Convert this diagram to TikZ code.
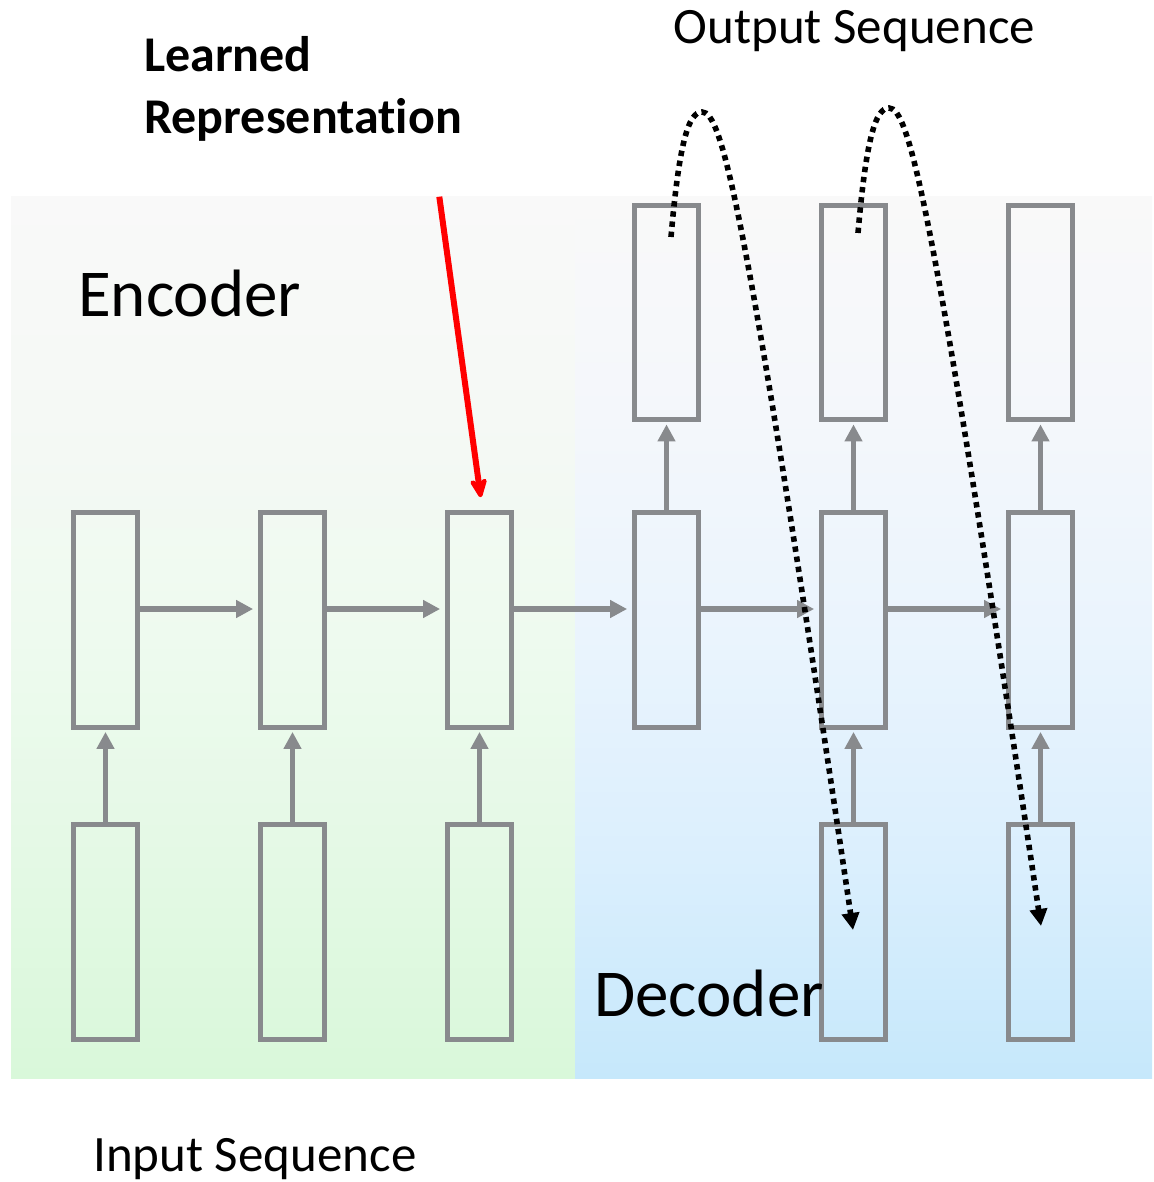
\documentclass[tikz,border=0pt]{standalone}
\usepackage{fontspec}
\setmainfont[Ligatures=NoCommon]{Carlito}
\usetikzlibrary{arrows.meta,calc}
\definecolor{boxgray}{RGB}{136,138,141}
\definecolor{bgtop}{RGB}{249,249,249}
\definecolor{encq1}{RGB}{245,249,245}
\definecolor{encq2}{RGB}{238,250,239}
\definecolor{encq3}{RGB}{228,249,229}
\definecolor{encbot}{RGB}{217,248,218}
\definecolor{decq1}{RGB}{244,247,251}
\definecolor{decq2}{RGB}{234,244,253}
\definecolor{decq3}{RGB}{219,239,253}
\definecolor{decbot}{RGB}{198,232,251}
\pgfdeclareverticalshading{encshade}{100bp}{color(0bp)=(encbot); color(25bp)=(encbot); color(37.5bp)=(encq3); color(50bp)=(encq2); color(62.5bp)=(encq1); color(75bp)=(bgtop); color(100bp)=(bgtop)}
\pgfdeclareverticalshading{decshade}{100bp}{color(0bp)=(decbot); color(25bp)=(decbot); color(37.5bp)=(decq3); color(50bp)=(decq2); color(62.5bp)=(decq1); color(75bp)=(bgtop); color(100bp)=(bgtop)}
\begin{document}
\begin{tikzpicture}[x=1pt,y=-1pt,
  cell/.style={draw=boxgray, line width=5.3pt, minimum width=63.5pt, minimum height=214.5pt, inner sep=0pt},
  flow/.style={draw=boxgray, line width=5.5pt, -{Triangle[length=17pt,width=17pt]}},
  loopback/.style={draw=black, line width=5.6pt, dash pattern=on 5.4pt off 4.8pt, -{Triangle[length=17pt,width=17pt]}},
  pointer/.style={draw=red, line width=6pt, -{Stealth[length=25pt,width=22pt,inset=8pt,round]}},
  label/.style={inner sep=0pt, anchor=base west, text=black}]
\useasboundingbox (0,0) rectangle (1153,1182);
% backgrounds
\shade[shading=encshade] (11,197) rectangle (575,1078);
\shade[shading=decshade] (575,197) rectangle (1152,1078);
% cells
\foreach \i/\x in {1/105.5,2/292.5,3/479.5,4/666.5,5/853.5,6/1040.5}{
  \node[cell] (m\i) at (\x,620) {};
}
\foreach \i/\x in {1/105.5,2/292.5,3/479.5,5/853.5,6/1040.5}{
  \node[cell] (b\i) at (\x,932) {};
}
\foreach \i/\x in {4/666.5,5/853.5,6/1040.5}{
  \node[cell] (t\i) at (\x,312.5) {};
}
% horizontal flow
\foreach \a/\b in {1/2,2/3,3/4,4/5,5/6}{
  \draw[flow, shorten >=5pt] ([yshift=11pt]m\a.east) -- ([yshift=11pt]m\b.west);
}
% vertical flow
\foreach \i in {1,2,3,5,6}{
  \draw[flow, shorten >=2pt] (b\i.north) -- (m\i.south);
}
\foreach \i in {4,5,6}{
  \draw[flow, shorten >=2pt] (m\i.north) -- (t\i.south);
}
% red pointer
\coordinate (rs) at (439.3,196.7);
\draw[pointer, shorten >=13pt] (rs) -- ($(m3.north)+(3,0)$);
% dotted feedback curves
\coordinate (d1s) at (671,237);
\coordinate (d1p) at (702,112);
\coordinate (d1e) at (853,930);
\draw[loopback] (d1s) .. controls (679,145) and (688,112) .. (d1p) .. controls (722,112) and (745,200) .. (d1e);
\coordinate (d2s) at (858,233);
\coordinate (d2p) at (889,108);
\coordinate (d2e) at (1041,926);
\draw[loopback] (d2s) .. controls (866,141) and (875,108) .. (d2p) .. controls (909,108) and (932,196) .. (d2e);
% texts
\node[label, font=\fontsize{67}{80}\selectfont] (enc) at (78,316) {Encoder};
\node[label, font=\fontsize{67}{80}\selectfont] (dec) at (594,1016) {Decoder};
\node[label, font=\fontsize{50}{61.5}\selectfont\bfseries, align=left] (lr) at (144,133.3) {Learned\\Representation};
\node[label, font=\fontsize{51}{60}\selectfont] (out) at (673.5,44) {Output Sequence};
\node[label, font=\fontsize{51}{60}\selectfont] (inp) at (93,1171) {Input Sequence};
\end{tikzpicture}
\end{document}
